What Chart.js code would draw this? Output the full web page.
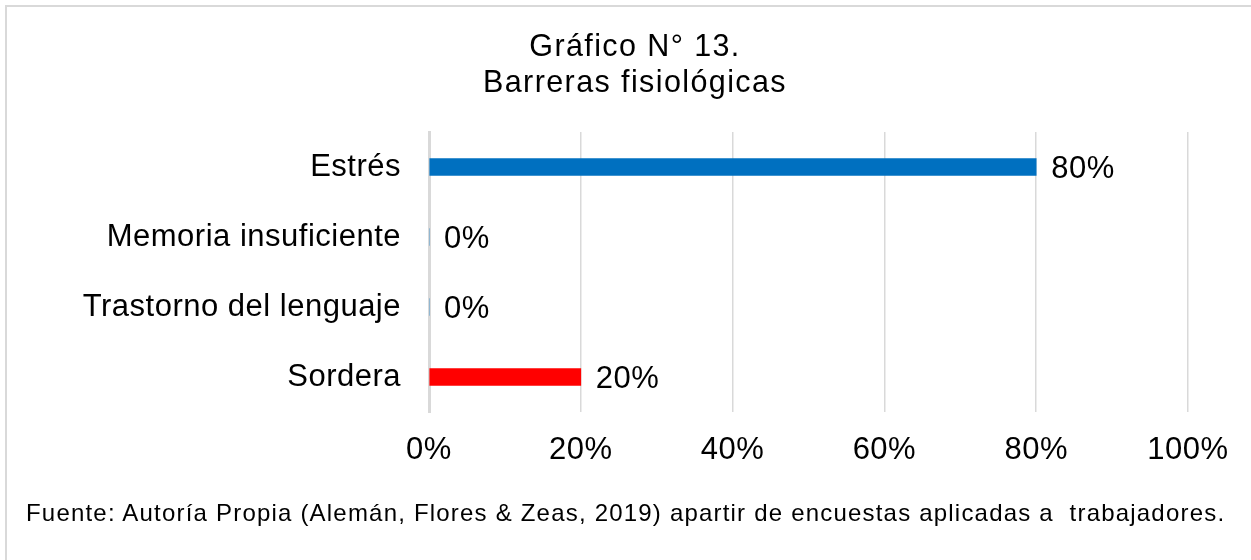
<!DOCTYPE html>
<html>
<head>
<meta charset="utf-8">
<script src="https://cdn.jsdelivr.net/npm/chart.js@4"></script>
<style>
    body { margin: 0; background: #fff; }
    #wrap { position: relative; width: 1251px; height: 560px; }
    #frame { position: absolute; left: 5px; top: 5px; right: 0; bottom: 0;
             border-left: 2px solid #d9d9d9; border-top: 2px solid #d9d9d9; }
    #chart { position: absolute; left: 0; top: 0; }
    .fuente { position: absolute; left: 26px; top: 499px; font: 24px "Liberation Sans", Arial, sans-serif;
              letter-spacing: 1.2px; color: #000; white-space: nowrap; }
</style>
</head>
<body>
<div id="wrap">
    <div id="frame"></div>
    <canvas id="chart" width="1251" height="560"></canvas>
    <div class="fuente">Fuente: Autoría Propia (Alemán, Flores &amp; Zeas, 2019) apartir de encuestas aplicadas a&nbsp; trabajadores.</div>
</div>
<script>
const categories = ['Estrés', 'Memoria insuficiente', 'Trastorno del lenguaje', 'Sordera'];
const values = [80, 0, 0, 20];
const barColors = ['#0070C0', '#0070C0', '#0070C0', '#FF0000'];
const tickValues = [0, 20, 40, 60, 80, 100];
const titleLines = ['Gráfico N° 13.', 'Barreras fisiológicas'];

const FONT = '"Liberation Sans", Arial, sans-serif';

// un poco de espaciado entre letras, como en el original
const textSpacing = {
    id: 'textSpacing',
    beforeDraw(chart) {
        chart.ctx.letterSpacing = '0.5px';
    }
};

// titulo en dos lineas
const chartTitle = {
    id: 'chartTitle',
    afterDraw(chart) {
        const ctx = chart.ctx;
        ctx.save();
        ctx.letterSpacing = '1.4px';
        ctx.font = '30.5px ' + FONT;
        ctx.fillStyle = '#000';
        ctx.textAlign = 'center';
        ctx.textBaseline = 'middle';
        titleLines.forEach((line, i) => {
            ctx.fillText(line, 635, 48 + i * 36);
        });
        ctx.restore();
    }
};

// etiquetas de valor al final de cada barra
const valueLabels = {
    id: 'valueLabels',
    afterDatasetsDraw(chart) {
        const ctx = chart.ctx;
        const meta = chart.getDatasetMeta(0);
        ctx.save();
        ctx.font = '31px ' + FONT;
        ctx.fillStyle = '#000';
        ctx.textAlign = 'left';
        ctx.textBaseline = 'middle';
        meta.data.forEach((bar, i) => {
            ctx.fillText(values[i] + '%', bar.x + 15, bar.y + 2);
        });
        ctx.restore();
    }
};

new Chart(document.getElementById('chart'), {
    type: 'bar',
    data: {
        labels: categories,
        datasets: [{
            data: values,
            backgroundColor: barColors,
            barThickness: 17
        }]
    },
    options: {
        indexAxis: 'y',
        responsive: false,
        animation: false,
        layout: { padding: { left: 82, right: 63, top: 132, bottom: 88 } },
        plugins: {
            legend: { display: false },
            tooltip: { enabled: false },
            title: { display: false }
        },
        scales: {
            x: {
                min: 0,
                max: 100,
                afterBuildTicks(scale) {
                    scale.ticks = tickValues.map(v => ({ value: v }));
                },
                afterFit(scale) { scale.height = 60; },
                grid: { color: '#d9d9d9', lineWidth: 1.5, drawTicks: false },
                border: { display: false },
                ticks: {
                    color: '#000',
                    padding: 20,
                    font: { family: FONT, size: 31 },
                    callback: v => v + '%'
                }
            },
            y: {
                afterFit(scale) { scale.width = 429 - 82; },
                grid: { display: false },
                border: { color: '#d9d9d9', width: 3 },
                ticks: {
                    color: '#000',
                    padding: 20,
                    font: { family: FONT, size: 31 }
                }
            }
        }
    },
    plugins: [textSpacing, valueLabels, chartTitle]
});
</script>
</body>
</html>
